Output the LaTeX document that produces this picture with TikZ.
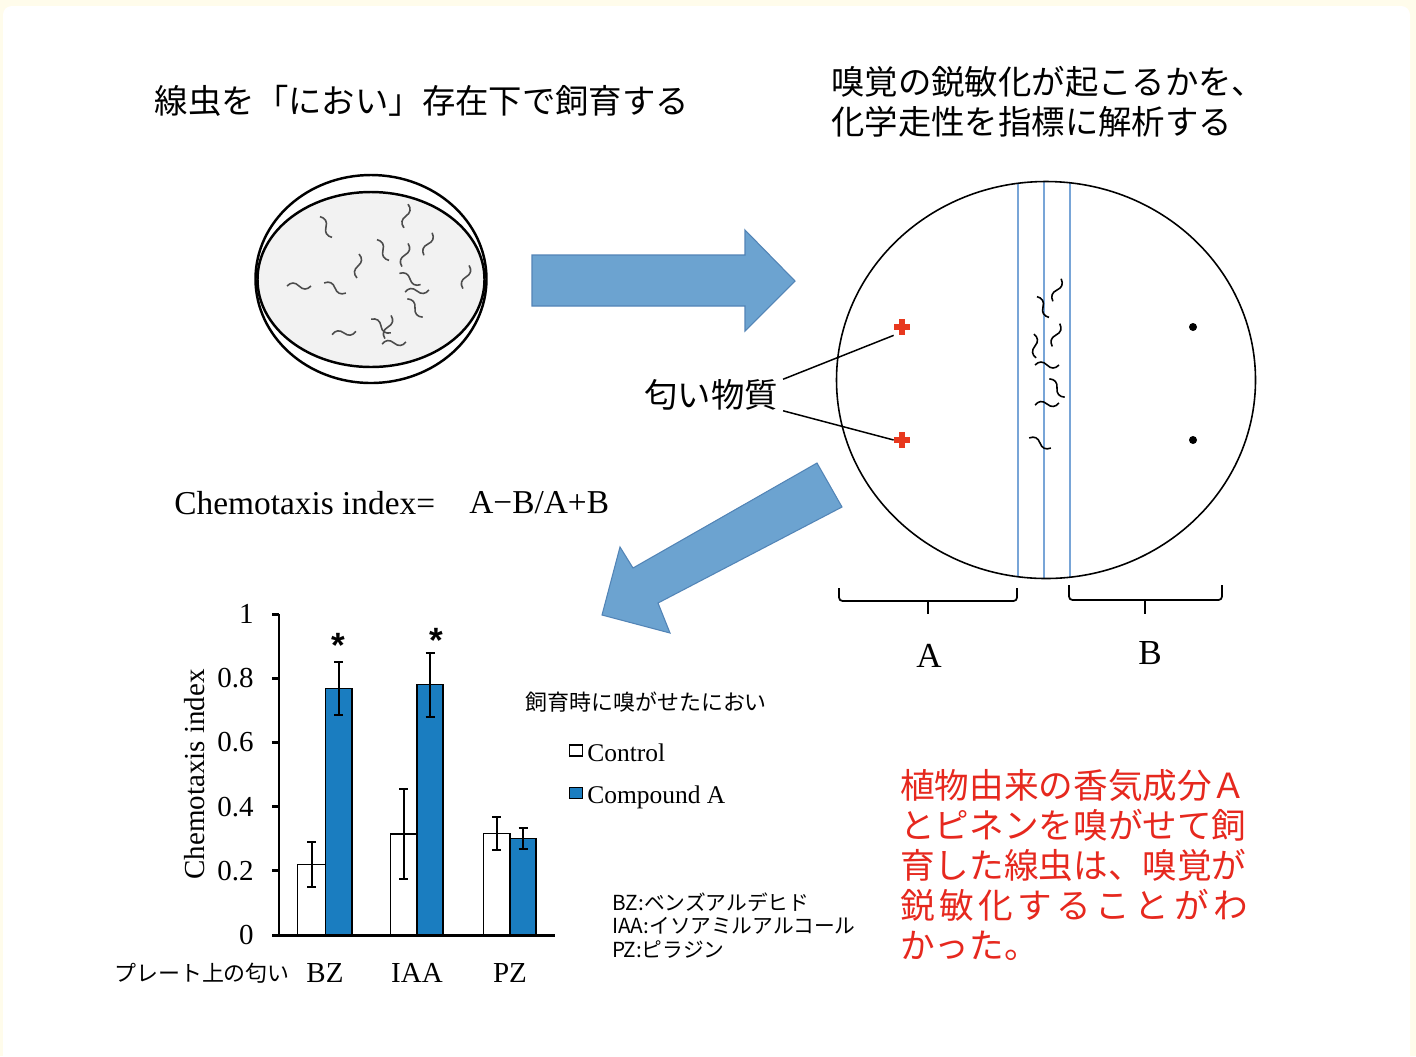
\documentclass[tikz,border=0pt]{standalone}
\usepackage{fontspec}
\setmainfont{Liberation Serif}
\newfontfamily\jp{Noto Sans CJK JP}
\newfontfamily\markfont{Liberation Sans}

\definecolor{framecream}{RGB}{255,252,235}
\definecolor{arrowblue}{RGB}{108,163,208}
\definecolor{arrowedge}{RGB}{82,132,182}
\definecolor{barblue}{RGB}{26,125,192}
\definecolor{laneblue}{RGB}{120,165,215}
\definecolor{odorred}{RGB}{232,56,30}
\definecolor{notered}{RGB}{230,40,30}
\definecolor{dishgray}{RGB}{242,242,242}

\tikzset{
  worm/.pic={\draw (-12,0) .. controls (-8,-4) and (-4,-4) .. (0,0)
                           .. controls (4,4) and (8,4) .. (12,0);},
  odorspot/.style={minimum size=0.32cm, inner sep=0pt,
    path picture={\draw[odorred, line width=2.9pt]
      (path picture bounding box.north) -- (path picture bounding box.south)
      (path picture bounding box.west) -- (path picture bounding box.east);}},
  ctrlspot/.style={circle, fill=black, minimum size=0.16cm, inner sep=0pt},
  bigarrow/.style={fill=arrowblue, draw=arrowedge, line width=0.6pt},
}

\begin{document}
\begin{tikzpicture}[x=0.02cm, y=-0.02cm,
    jtitle/.style={font=\jp\fontsize{19}{22.7}\selectfont, inner sep=0pt},
    jsmall/.style={font=\jp\fontsize{12.5}{14}\selectfont, inner sep=0pt},
    abbrev/.style={font=\jp\fontsize{11.8}{13.3}\selectfont, inner sep=0pt, align=left},
    note/.style={font=\jp\fontsize{19.7}{22.7}\selectfont, text=notered, inner sep=0pt, align=left},
    formula/.style={font=\fontsize{19}{22}\selectfont, inner sep=0pt},
    ablabel/.style={font=\fontsize{20}{22}\selectfont, inner sep=0pt},
    ticklabel/.style={font=\fontsize{16.5}{18}\selectfont, inner sep=0pt},
    legendtext/.style={font=\fontsize{14.5}{16}\selectfont, inner sep=0pt},
    legendbox/.style={draw=black, line width=0.6pt, minimum width=0.25cm, minimum height=0.22cm, inner sep=0pt},
    ctrlbar/.style={fill=white, draw=black, line width=0.75pt},
    cmpbar/.style={fill=barblue, draw=black, line width=0.75pt},
    errbar/.style={line width=1.1pt},
    axisline/.style={line width=1.7pt},
    bracket/.style={line width=1pt, rounded corners=2pt},
    pointer/.style={line width=0.85pt}]
  \useasboundingbox (0,0) rectangle (1416,1056);

  % background card
  \fill[framecream] (0,0) rectangle (1416,1056);
  \begin{scope}
    \clip (0,0) rectangle (1416,1056);
    \fill[white, rounded corners=5pt] (3,6) rectangle (1410,1090);
  \end{scope}

  % titles
  \node[jtitle] (feedtitle) at (422,101) {線虫を「におい」存在下で飼育する};
  \node[jtitle, anchor=west, align=left] (assaytitle) at (831,102)
    {嗅覚の鋭敏化が起こるかを、\\化学走性を指標に解析する};

  % culture dish with worms
  \draw[line width=1.4pt] (371,279) ellipse [x radius=115.5, y radius=104];
  \filldraw[fill=dishgray, line width=1.4pt] (371,279.5) ellipse [x radius=113.5, y radius=87.5];
  \begin{scope}[black!70, line width=0.9pt]
    \foreach \wx/\wy/\wa in {326/227/-60, 406/216/80, 428/244/70, 383/250/-60,
        405/255/75, 358/266/85, 466/277/75, 299/286/0, 335/288/-25,
        410/279/-28, 417/291/5, 415/308/-50, 381/326/-35, 388/327/75,
        344/333/8, 394/343/5}
      \pic[rotate=\wa] at (\wx,\wy) {worm};
  \end{scope}

  % arrow to the assay plate
  \filldraw[bigarrow] (532,255) -- (745,255) -- (745,230) -- (795,281)
    -- (745,331) -- (745,306) -- (532,306) -- cycle;

  % assay plate
  \begin{scope}
    \clip (1046,380) ellipse [x radius=209.5, y radius=198.5];
    \foreach \lx in {1018,1044,1070}
      \draw[laneblue, line width=0.9pt] (\lx,170) -- (\lx,590);
  \end{scope}
  \draw[line width=0.9pt] (1046,380) ellipse [x radius=209.5, y radius=198.5];
  \begin{scope}[black, line width=0.9pt]
    \foreach \wx/\wy/\wa in {1057/290/70, 1043/307/-60, 1056/335/72,
        1035/346/95, 1047/365/0, 1057/388/-50, 1047/404/5, 1040/443/-25}
      \pic[rotate=\wa] at (\wx,\wy) {worm};
  \end{scope}

  \node[odorspot] (spotA1) at (902,327) {};
  \node[odorspot] (spotA2) at (902,440) {};
  \node[ctrlspot] (spotB1) at (1193,327) {};
  \node[ctrlspot] (spotB2) at (1193,440) {};

  \node[jtitle, inner xsep=0.1cm] (odor) at (711,395) {匂い物質};
  \draw[pointer] (odor.north east) -- (spotA1.south west);
  \draw[pointer] (odor.south east) -- (spotA2.west);

  % regions A and B
  \draw[bracket] (839,588) -- (839,601) -- (1017,601) -- (1017,588);
  \draw[bracket] (928,601) -- (928,614);
  \draw[bracket] (1069,585) -- (1069,600) -- (1222,600) -- (1222,585);
  \draw[bracket] (1145,600) -- (1145,614);
  \node[ablabel] (labA) at (929,656) {A};
  \node[ablabel] (labB) at (1150,653) {B};

  % index formula
  \node[formula, anchor=west] (ciname) at (174,503) {Chemotaxis index=};
  \node[formula, anchor=west] (ciform) at (469,503) {A−B/A+B};

  % arrow down to the results
  \filldraw[bigarrow] (602,615) -- (620,547) -- (633,568) -- (817,463)
    -- (842,507) -- (658,603) -- (670,633) -- cycle;

  % bar chart
  \begin{scope}[shift={(279,935)}, y=6.42cm]
    \foreach \xa/\xb/\v/\e in {18.7/46.7/0.22/0.07, 111.7/138/0.315/0.141,
        204.7/231/0.317/0.051} {
      \pgfmathsetmacro\xm{(\xa+\xb)/2}
      \filldraw[ctrlbar] (\xa,0) rectangle (\xb,\v);
      \draw[errbar] (\xm-4.5,\v-\e) -- ++(9,0) (\xm,\v-\e) -- (\xm,\v+\e)
        (\xm-4.5,\v+\e) -- ++(9,0);
    }
    \foreach \xa/\xb/\v/\e in {46.7/73/0.768/0.082, 138/164/0.78/0.10,
        231/257/0.30/0.033} {
      \pgfmathsetmacro\xm{(\xa+\xb)/2}
      \filldraw[cmpbar] (\xa,0) rectangle (\xb,\v);
      \draw[errbar] (\xm-4.5,\v-\e) -- ++(9,0) (\xm,\v-\e) -- (\xm,\v+\e)
        (\xm-4.5,\v+\e) -- ++(9,0);
    }
    \draw[axisline] (0,1) -- (0,0) -- (276,0);
    \foreach \t [count=\i] in {0,0.2,0.4,0.6,0.8,1} {
      \draw[axisline] (-7,\t) -- (0,\t);
      \node[ticklabel, anchor=east] (ytick\i) at (-25,\t) {\t};
    }
    \node[ticklabel, rotate=90] (ylabel) at (-84,0.5) {Chemotaxis index};
    \node[font=\markfont\bfseries\fontsize{20}{20}\selectfont, inner sep=0pt, anchor=base] (starBZ) at (59,0.865) {*};
    \node[font=\markfont\bfseries\fontsize{20}{20}\selectfont, inner sep=0pt, anchor=base] (starIAA) at (157,0.881) {*};
    \node[ticklabel] (xBZ) at (46,-0.118) {BZ};
    \node[ticklabel] (xIAA) at (138,-0.118) {IAA};
    \node[ticklabel] (xPZ) at (231,-0.118) {PZ};
    \node[jsmall] (xname) at (-77,-0.118) {プレート上の匂い};
  \end{scope}

  % legend
  \node[jsmall, anchor=west] (legtitle) at (525,702) {飼育時に嗅がせたにおい};
  \node[legendbox, fill=white] (boxctrl) at (576,750.5) {};
  \node[legendtext, anchor=west] (txtctrl) at (587,753) {Control};
  \node[legendbox, fill=barblue] (boxcmp) at (576,793) {};
  \node[legendtext, anchor=west] (txtcmp) at (587,797) {Compound A};

  % odorant abbreviations (base = last line)
  \node[abbrev, anchor=base west] (abbr) at (612,957)
    {BZ:ベンズアルデヒド\\IAA:イソアミルアルコール\\PZ:ピラジン};

  % result (base = last line)
  \node[note, anchor=base west] (result) at (900,958)
    {植物由来の香気成分Ａ\\とピネンを嗅がせて飼\\育した線虫は、嗅覚が\\
     \makebox[6.95cm][l]{鋭\hfill 敏\hfill 化\hfill す\hfill る\hfill こ\hfill と\hfill が\hfill わ}\\
     かった。};
\end{tikzpicture}
\end{document}
